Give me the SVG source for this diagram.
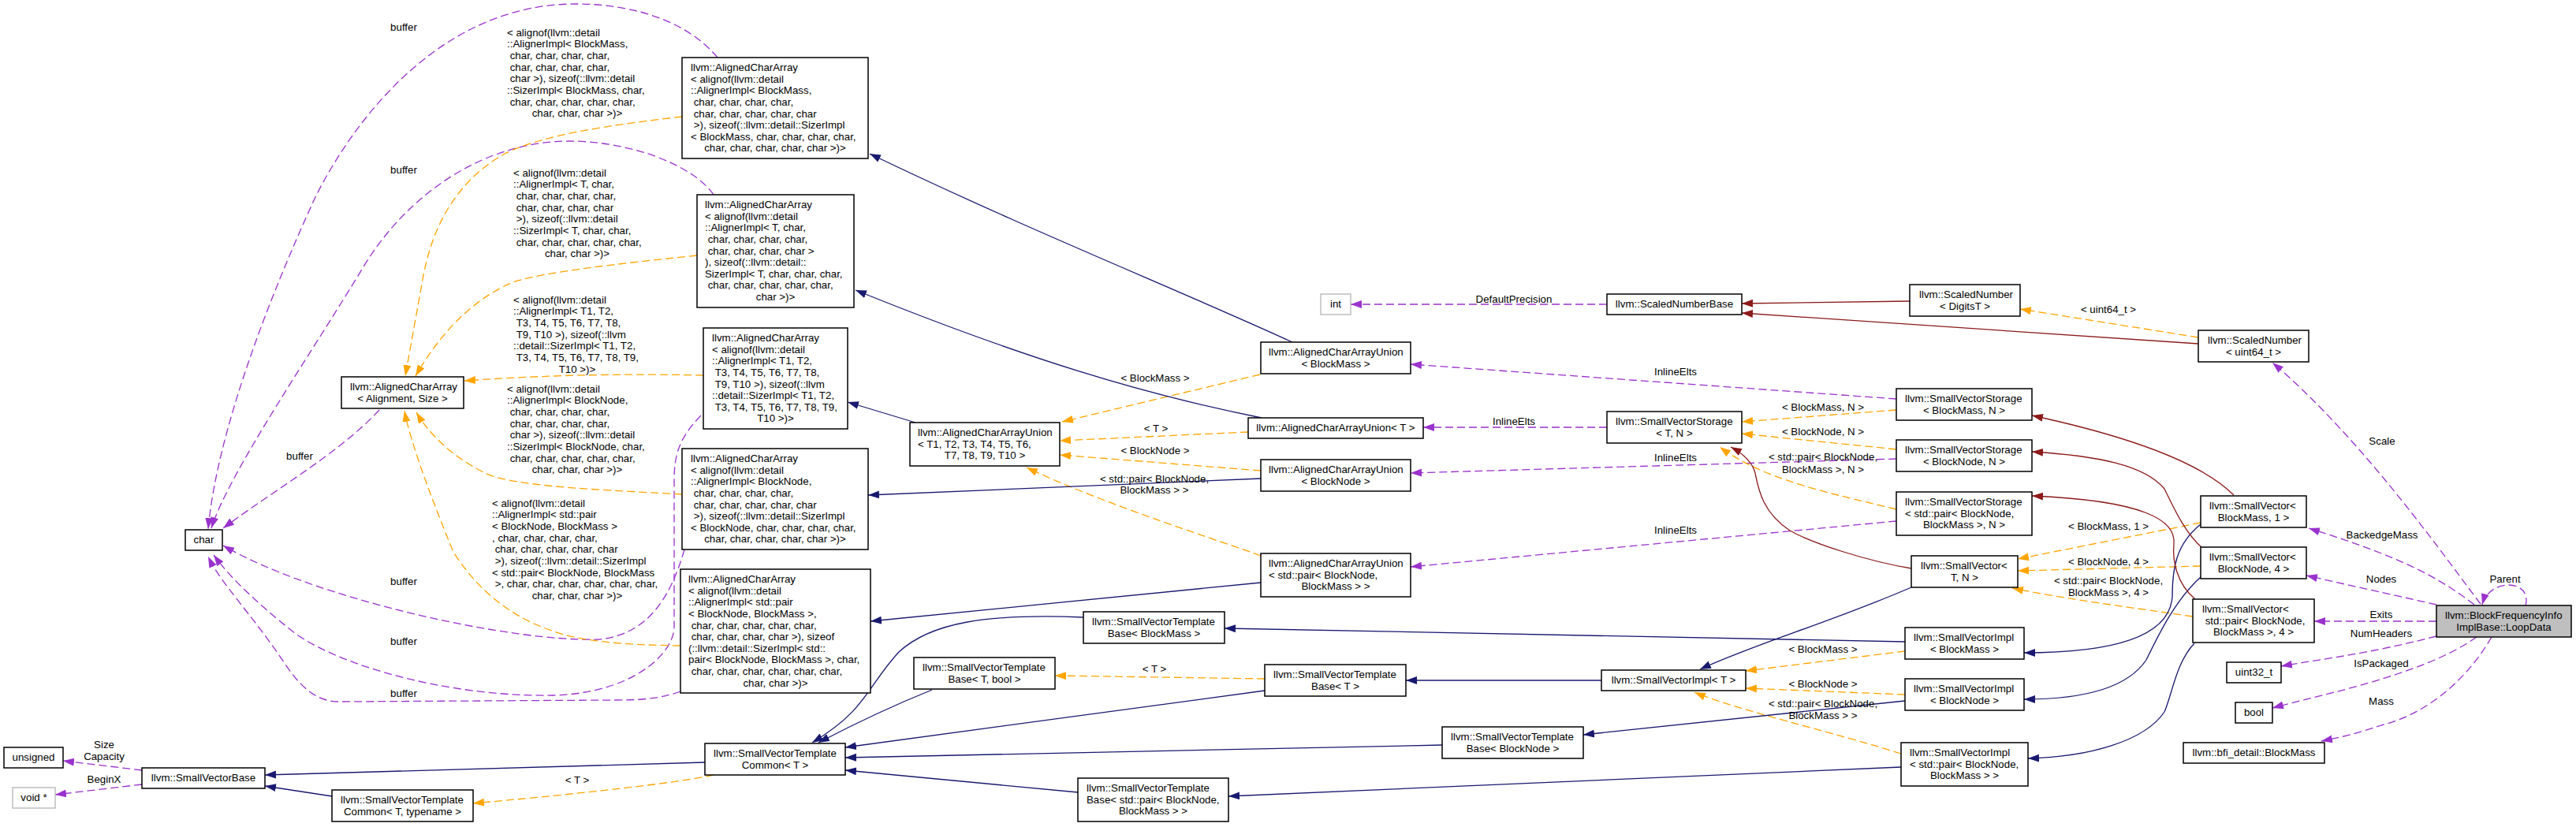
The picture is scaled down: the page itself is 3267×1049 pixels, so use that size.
<svg xmlns="http://www.w3.org/2000/svg" width="3267" height="1049" viewBox="0 0 3267 1049">
<style>
text{font-family:"Liberation Sans",Arial,Helvetica,sans-serif;font-size:13.3px;fill:#000}
.m{text-anchor:middle}
.box{fill:#fff;stroke:#000;stroke-width:1.5}
.gb{fill:#fff;stroke:#bfbfbf;stroke-width:1.5}
.root{fill:#bfbfbf;stroke:#000;stroke-width:1.5}
.nv{fill:none;stroke:#191970;stroke-width:1.3;marker-end:url(#an)}
.rd{fill:none;stroke:#8b1a1a;stroke-width:1.3;marker-end:url(#ar)}
.or{fill:none;stroke:#ffa500;stroke-width:1.3;stroke-dasharray:10,5;marker-end:url(#ao)}
.pu{fill:none;stroke:#9a32cd;stroke-width:1.3;stroke-dasharray:10,5;marker-end:url(#ap)}
</style>
<defs>
<marker id="an" markerUnits="userSpaceOnUse" markerWidth="15" markerHeight="11" refX="14" refY="5" orient="auto"><path d="M0,0 L14,5 L0,10 z" fill="#191970"/></marker>
<marker id="ar" markerUnits="userSpaceOnUse" markerWidth="15" markerHeight="11" refX="14" refY="5" orient="auto"><path d="M0,0 L14,5 L0,10 z" fill="#8b1a1a"/></marker>
<marker id="ao" markerUnits="userSpaceOnUse" markerWidth="15" markerHeight="11" refX="14" refY="5" orient="auto"><path d="M0,0 L14,5 L0,10 z" fill="#ffa500"/></marker>
<marker id="ap" markerUnits="userSpaceOnUse" markerWidth="15" markerHeight="11" refX="14" refY="5" orient="auto"><path d="M0,0 L14,5 L0,10 z" fill="#9a32cd"/></marker>
</defs>
<rect width="3267" height="1049" fill="#fff"/>

<g id="connectors">
<path class="pu" d="M910,73 C870,25 800,5 730,5 C560,5 450,150 400,250 C340,380 275,550 264,671"/>
<path class="pu" d="M905,247 C880,210 800,179 722,179 C620,179 520,240 460,340 C400,440 290,600 268,670"/>
<path class="pu" d="M481,520 C430,575 350,620 283,670"/>
<path class="pu" d="M868,697 C850,760 820,805 760,811 C650,815 400,760 283,692"/>
<path class="pu" d="M889,527 C862,555 855,575 855,610 L855,795 C855,830 800,880 700,882 C560,884 420,840 370,800 C320,760 290,730 271,704"/>
<path class="pu" d="M863,877 C840,885 820,888 780,888 L430,890 C400,890 380,870 360,840 C320,780 280,740 264,706"/>
<path class="pu" d="M2038,386 L1713,386"/>
<path class="pu" d="M2405,506 L1789,462"/>
<path class="pu" d="M2038,542 L1805,542"/>
<path class="pu" d="M2405,582 L1789,600"/>
<path class="pu" d="M2405,661 L1789,719"/>
<path class="pu" d="M3146,766 C3110,720 3000,560 2882,460"/>
<path class="pu" d="M3138,767 C3090,730 3040,705 2928,670"/>
<path class="pu" d="M3090,767 L2925,730"/>
<path class="pu" d="M3090,788 L2935,788"/>
<path class="pu" d="M3090,807 C3000,830 2950,835 2893,845"/>
<path class="pu" d="M3141,808 C3110,830 3070,845 3040,855 C2980,875 2930,885 2882,898"/>
<path class="pu" d="M3160,808 C3130,860 3080,905 3020,920 C2990,930 2970,935 2944,940"/>
<path class="pu" d="M3203,768 C3212,735 3158,732 3148,767"/>
<path class="pu" d="M180,977 L80,965"/>
<path class="pu" d="M180,995 L70,1008"/>
<path class="or" d="M865,148 C780,158 690,170 640,195 C570,235 545,300 535,360 L514,477"/>
<path class="or" d="M884,324 C780,335 690,345 650,358 C600,380 560,420 527,477"/>
<path class="or" d="M892,476 C800,474 700,475 589,483"/>
<path class="or" d="M865,627 C780,622 650,618 615,600 C585,585 550,560 528,523"/>
<path class="or" d="M863,819 C800,818 740,815 700,800 C640,780 600,740 575,700 C550,640 520,560 513,521"/>
<path class="or" d="M1598,475 L1347,535"/>
<path class="or" d="M1583,548 L1344,559"/>
<path class="or" d="M1599,597 L1344,577"/>
<path class="or" d="M1599,705 C1560,690 1400,640 1302,593"/>
<path class="or" d="M1604,861 L1338,857"/>
<path class="or" d="M905,983 C850,995 700,1010 600,1019"/>
<path class="or" d="M2788,428 L2562,392"/>
<path class="or" d="M2405,520 L2209,535"/>
<path class="or" d="M2405,570 L2209,550"/>
<path class="or" d="M2405,646 C2320,625 2240,610 2181,567"/>
<path class="or" d="M2791,663 L2559,709"/>
<path class="or" d="M2791,718 L2559,724"/>
<path class="or" d="M2781,782 C2700,770 2620,760 2552,746"/>
<path class="or" d="M2416,826 L2214,851"/>
<path class="or" d="M2416,881 L2214,873"/>
<path class="or" d="M2411,956 C2330,930 2200,900 2149,878"/>
<path class="nv" d="M1639,434 C1500,370 1300,290 1103,195"/>
<path class="nv" d="M1600,530 C1450,500 1300,455 1085,368"/>
<path class="nv" d="M1161,536 L1075,510"/>
<path class="nv" d="M1599,607 L1101,628"/>
<path class="nv" d="M1599,739 L1104,788"/>
<path class="nv" d="M1374,783 C1250,778 1180,790 1140,827 C1100,870 1100,900 1030,942"/>
<path class="nv" d="M1182,875 C1120,900 1080,920 1038,942"/>
<path class="nv" d="M1604,876 L1072,948"/>
<path class="nv" d="M1829,945 L1072,961"/>
<path class="nv" d="M1367,1005 L1072,977"/>
<path class="nv" d="M894,967 L336,983"/>
<path class="nv" d="M421,1010 L336,997"/>
<path class="nv" d="M2416,814 L1553,797"/>
<path class="nv" d="M2416,889 L2008,932"/>
<path class="nv" d="M2411,973 L1558,1010"/>
<path class="nv" d="M2031,863 L1783,863"/>
<path class="nv" d="M2424,745 C2320,790 2230,815 2156,849"/>
<path class="nv" d="M2791,665 C2760,690 2755,720 2755,757 C2752,800 2700,828 2567,828"/>
<path class="nv" d="M2791,732 C2760,760 2740,800 2722,837 C2700,870 2650,887 2567,887"/>
<path class="nv" d="M2783,816 C2760,840 2755,880 2745,903 C2720,940 2650,960 2572,962"/>
<path class="rd" d="M2788,436 L2209,397"/>
<path class="rd" d="M2422,382 L2209,385"/>
<path class="rd" d="M2424,721 C2370,712 2300,690 2270,673 C2235,650 2230,620 2226,600 C2222,585 2210,575 2195,567"/>
<path class="rd" d="M2833,628 C2800,595 2730,560 2577,527"/>
<path class="rd" d="M2793,695 C2770,675 2755,640 2745,620 C2720,590 2660,578 2577,573"/>
<path class="rd" d="M2784,760 C2760,740 2755,710 2757,690 C2760,660 2720,635 2577,629"/>
</g>

<g id="edge-labels">
<text x="643" y="45.6">&lt; alignof(llvm::detail<tspan x="643" dy="14.65">::AlignerImpl&lt; BlockMass,</tspan><tspan x="646.7" dy="14.65">char, char, char, char,</tspan><tspan x="646.7" dy="14.65">char, char, char, char,</tspan><tspan x="646.7" dy="14.65">char &gt;), sizeof(::llvm::detail</tspan><tspan x="643" dy="14.65">::SizerImpl&lt; BlockMass, char,</tspan><tspan x="646.7" dy="14.65">char, char, char, char, char,</tspan><tspan x="732" dy="14.65" text-anchor="middle">char, char, char &gt;)&gt;</tspan></text>
<text x="651" y="223.6">&lt; alignof(llvm::detail<tspan x="651" dy="14.65">::AlignerImpl&lt; T, char,</tspan><tspan x="654.7" dy="14.65">char, char, char, char,</tspan><tspan x="654.7" dy="14.65">char, char, char, char</tspan><tspan x="654.7" dy="14.65">&gt;), sizeof(::llvm::detail</tspan><tspan x="651" dy="14.65">::SizerImpl&lt; T, char, char,</tspan><tspan x="654.7" dy="14.65">char, char, char, char, char,</tspan><tspan x="732" dy="14.65" text-anchor="middle">char, char &gt;)&gt;</tspan></text>
<text x="651" y="384.6">&lt; alignof(llvm::detail<tspan x="651" dy="14.65">::AlignerImpl&lt; T1, T2,</tspan><tspan x="654.7" dy="14.65">T3, T4, T5, T6, T7, T8,</tspan><tspan x="654.7" dy="14.65">T9, T10 &gt;), sizeof(::llvm</tspan><tspan x="651" dy="14.65">::detail::SizerImpl&lt; T1, T2,</tspan><tspan x="654.7" dy="14.65">T3, T4, T5, T6, T7, T8, T9,</tspan><tspan x="732" dy="14.65" text-anchor="middle">T10 &gt;)&gt;</tspan></text>
<text x="643" y="497.6">&lt; alignof(llvm::detail<tspan x="643" dy="14.65">::AlignerImpl&lt; BlockNode,</tspan><tspan x="646.7" dy="14.65">char, char, char, char,</tspan><tspan x="646.7" dy="14.65">char, char, char, char,</tspan><tspan x="646.7" dy="14.65">char &gt;), sizeof(::llvm::detail</tspan><tspan x="643" dy="14.65">::SizerImpl&lt; BlockNode, char,</tspan><tspan x="646.7" dy="14.65">char, char, char, char, char,</tspan><tspan x="732" dy="14.65" text-anchor="middle">char, char, char &gt;)&gt;</tspan></text>
<text x="624" y="642.6">&lt; alignof(llvm::detail<tspan x="624" dy="14.65">::AlignerImpl&lt; std::pair</tspan><tspan x="624" dy="14.65">&lt; BlockNode, BlockMass &gt;</tspan><tspan x="624" dy="14.65">, char, char, char, char,</tspan><tspan x="627.7" dy="14.65">char, char, char, char, char</tspan><tspan x="627.7" dy="14.65">&gt;), sizeof(::llvm::detail::SizerImpl</tspan><tspan x="624" dy="14.65">&lt; std::pair&lt; BlockNode, BlockMass</tspan><tspan x="627.7" dy="14.65">&gt;, char, char, char, char, char, char,</tspan><tspan x="732" dy="14.65" text-anchor="middle">char, char, char &gt;)&gt;</tspan></text>
<text class="m" x="512" y="38.6">buffer</text>
<text class="m" x="512" y="219.6">buffer</text>
<text class="m" x="380" y="582.6">buffer</text>
<text class="m" x="512" y="741.6">buffer</text>
<text class="m" x="512" y="817.6">buffer</text>
<text class="m" x="512" y="883.6">buffer</text>
<text class="m" x="1920" y="383.6">DefaultPrecision</text>
<text class="m" x="2125" y="475.6">InlineElts</text>
<text class="m" x="1920" y="538.6">InlineElts</text>
<text class="m" x="2125" y="584.6">InlineElts</text>
<text class="m" x="2125" y="676.6">InlineElts</text>
<text class="m" x="3021" y="563.6">Scale</text>
<text class="m" x="3021" y="682.6">BackedgeMass</text>
<text class="m" x="3020" y="738.6">Nodes</text>
<text class="m" x="3020" y="783.6">Exits</text>
<text class="m" x="3020" y="807.6">NumHeaders</text>
<text class="m" x="3020" y="845.6">IsPackaged</text>
<text class="m" x="3020" y="893.6">Mass</text>
<text class="m" x="3177" y="738.6">Parent</text>
<text class="m" x="132" y="948.6">Size</text>
<text class="m" x="132" y="963.6">Capacity</text>
<text class="m" x="132" y="992.6">BeginX</text>
<text class="m" x="1465" y="483.6">&lt; BlockMass &gt;</text>
<text class="m" x="1466" y="547.6">&lt; T &gt;</text>
<text class="m" x="1465" y="575.6">&lt; BlockNode &gt;</text>
<text class="m" x="1464" y="611.6">&lt; std::pair&lt; BlockNode,</text>
<text class="m" x="1464" y="625.6">BlockMass &gt; &gt;</text>
<text class="m" x="1464" y="852.6">&lt; T &gt;</text>
<text class="m" x="732" y="993.6">&lt; T &gt;</text>
<text class="m" x="2674" y="396.6">&lt; uint64_t &gt;</text>
<text class="m" x="2312" y="520.6">&lt; BlockMass, N &gt;</text>
<text class="m" x="2312" y="551.6">&lt; BlockNode, N &gt;</text>
<text class="m" x="2312" y="583.6">&lt; std::pair&lt; BlockNode,</text>
<text class="m" x="2312" y="599.6">BlockMass &gt;, N &gt;</text>
<text class="m" x="2674" y="671.6">&lt; BlockMass, 1 &gt;</text>
<text class="m" x="2674" y="716.6">&lt; BlockNode, 4 &gt;</text>
<text class="m" x="2674" y="740.6">&lt; std::pair&lt; BlockNode,</text>
<text class="m" x="2674" y="755.6">BlockMass &gt;, 4 &gt;</text>
<text class="m" x="2312" y="827.6">&lt; BlockMass &gt;</text>
<text class="m" x="2312" y="871.6">&lt; BlockNode &gt;</text>
<text class="m" x="2312" y="896.6">&lt; std::pair&lt; BlockNode,</text>
<text class="m" x="2312" y="911.6">BlockMass &gt; &gt;</text>
</g>

<g id="LoopData"><rect class="root" x="3090" y="768" width="171" height="40"/><text x="3101" y="785">llvm::BlockFrequencyInfo</text><text class="m" x="3175.5" y="800">ImplBase::LoopData</text></g>
<g id="SmallVector_BlockMass_1"><rect class="box" x="2791" y="629" width="134" height="40"/><text x="2802" y="646">llvm::SmallVector&lt;</text><text class="m" x="2858" y="661">BlockMass, 1 &gt;</text></g>
<g id="SmallVector_BlockNode_4"><rect class="box" x="2791" y="694" width="134" height="40"/><text x="2802" y="711">llvm::SmallVector&lt;</text><text class="m" x="2858" y="726">BlockNode, 4 &gt;</text></g>
<g id="SmallVector_pair_4"><rect class="box" x="2781" y="760" width="154" height="55"/><text x="2793" y="777">llvm::SmallVector&lt;</text><text x="2796.7" y="792">std::pair&lt; BlockNode,</text><text class="m" x="2858" y="806">BlockMass &gt;, 4 &gt;</text></g>
<g id="uint32_t"><rect class="box" x="2824" y="840" width="69" height="26"/><text class="m" x="2858.5" y="857">uint32_t</text></g>
<g id="bool"><rect class="box" x="2835" y="891" width="47" height="26"/><text class="m" x="2858.5" y="908">bool</text></g>
<g id="BlockMass"><rect class="box" x="2769" y="942" width="179" height="26"/><text class="m" x="2858.5" y="959">llvm::bfi_detail::BlockMass</text></g>
<g id="ScaledNumber_uint64"><rect class="box" x="2788" y="419" width="140" height="40"/><text x="2800" y="436">llvm::ScaledNumber</text><text class="m" x="2858" y="451">&lt; uint64_t &gt;</text></g>
<g id="ScaledNumber_DigitsT"><rect class="box" x="2422" y="361" width="140" height="40"/><text x="2434" y="378">llvm::ScaledNumber</text><text class="m" x="2492" y="393">&lt; DigitsT &gt;</text></g>
<g id="ScaledNumberBase"><rect class="box" x="2038" y="373" width="171" height="26"/><text class="m" x="2123.5" y="390">llvm::ScaledNumberBase</text></g>
<g id="int"><rect class="gb" x="1675" y="373" width="38" height="26"/><text class="m" x="1694" y="390">int</text></g>
<g id="SVStorage_BlockMass_N"><rect class="box" x="2405" y="493" width="172" height="40"/><text x="2416" y="510">llvm::SmallVectorStorage</text><text class="m" x="2491" y="525">&lt; BlockMass, N &gt;</text></g>
<g id="SVStorage_BlockNode_N"><rect class="box" x="2405" y="558" width="172" height="40"/><text x="2416" y="575">llvm::SmallVectorStorage</text><text class="m" x="2491" y="590">&lt; BlockNode, N &gt;</text></g>
<g id="SVStorage_pair_N"><rect class="box" x="2405" y="624" width="172" height="55"/><text x="2416" y="641">llvm::SmallVectorStorage</text><text x="2416" y="656">&lt; std::pair&lt; BlockNode,</text><text class="m" x="2491" y="670">BlockMass &gt;, N &gt;</text></g>
<g id="SVStorage_T_N"><rect class="box" x="2038" y="522" width="171" height="40"/><text x="2049" y="539">llvm::SmallVectorStorage</text><text class="m" x="2123.5" y="554">&lt; T, N &gt;</text></g>
<g id="SmallVector_T_N"><rect class="box" x="2424" y="705" width="135" height="40"/><text x="2436" y="722">llvm::SmallVector&lt;</text><text class="m" x="2491.5" y="737">T, N &gt;</text></g>
<g id="SVImpl_BlockMass"><rect class="box" x="2416" y="796" width="151" height="40"/><text x="2427" y="813">llvm::SmallVectorImpl</text><text class="m" x="2491.5" y="828">&lt; BlockMass &gt;</text></g>
<g id="SVImpl_BlockNode"><rect class="box" x="2416" y="861" width="151" height="40"/><text x="2427" y="878">llvm::SmallVectorImpl</text><text class="m" x="2491.5" y="893">&lt; BlockNode &gt;</text></g>
<g id="SVImpl_pair"><rect class="box" x="2411" y="942" width="161" height="55"/><text x="2422" y="959">llvm::SmallVectorImpl</text><text x="2422" y="974">&lt; std::pair&lt; BlockNode,</text><text class="m" x="2491.5" y="988">BlockMass &gt; &gt;</text></g>
<g id="SVImpl_T"><rect class="box" x="2031" y="850" width="183" height="26"/><text class="m" x="2122.5" y="867">llvm::SmallVectorImpl&lt; T &gt;</text></g>
<g id="SVTBase_T"><rect class="box" x="1604" y="843" width="179" height="40"/><text x="1615" y="860">llvm::SmallVectorTemplate</text><text class="m" x="1693.5" y="875">Base&lt; T &gt;</text></g>
<g id="SVTBase_BlockNode"><rect class="box" x="1829" y="922" width="179" height="40"/><text x="1840" y="939">llvm::SmallVectorTemplate</text><text class="m" x="1918.5" y="954">Base&lt; BlockNode &gt;</text></g>
<g id="SVTBase_BlockMass"><rect class="box" x="1374" y="776" width="179" height="40"/><text x="1385" y="793">llvm::SmallVectorTemplate</text><text class="m" x="1463.5" y="808">Base&lt; BlockMass &gt;</text></g>
<g id="SVTBase_T_bool"><rect class="box" x="1159" y="834" width="179" height="40"/><text x="1170" y="851">llvm::SmallVectorTemplate</text><text class="m" x="1248.5" y="866">Base&lt; T, bool &gt;</text></g>
<g id="SVTBase_pair"><rect class="box" x="1367" y="987" width="191" height="55"/><text x="1378" y="1004">llvm::SmallVectorTemplate</text><text x="1378" y="1019">Base&lt; std::pair&lt; BlockNode,</text><text class="m" x="1462.5" y="1033">BlockMass &gt; &gt;</text></g>
<g id="SVTCommon_T"><rect class="box" x="894" y="943" width="178" height="40"/><text x="905" y="960">llvm::SmallVectorTemplate</text><text class="m" x="983" y="975">Common&lt; T &gt;</text></g>
<g id="SVTCommon_T_typename"><rect class="box" x="421" y="1002" width="179" height="40"/><text x="432" y="1019">llvm::SmallVectorTemplate</text><text class="m" x="510.5" y="1034">Common&lt; T, typename &gt;</text></g>
<g id="SmallVectorBase"><rect class="box" x="180" y="974" width="156" height="26"/><text class="m" x="258" y="991">llvm::SmallVectorBase</text></g>
<g id="unsigned"><rect class="box" x="5" y="948" width="75" height="26"/><text class="m" x="42.5" y="965">unsigned</text></g>
<g id="void_ptr"><rect class="gb" x="16" y="999" width="54" height="26"/><text class="m" x="43" y="1016">void *</text></g>
<g id="char"><rect class="box" x="235" y="672" width="47" height="26"/><text class="m" x="258.5" y="689">char</text></g>
<g id="AlignedCharArray_Alignment_Size"><rect class="box" x="433" y="478" width="155" height="40"/><text x="444" y="495">llvm::AlignedCharArray</text><text class="m" x="510.5" y="510">&lt; Alignment, Size &gt;</text></g>
<g id="ACA_BlockMass"><rect class="box" x="865" y="73" width="236" height="128"/><text x="876" y="90.1">llvm::AlignedCharArray<tspan x="876" dy="14.6">&lt; alignof(llvm::detail</tspan><tspan x="876" dy="14.6">::AlignerImpl&lt; BlockMass,</tspan><tspan x="879.7" dy="14.6">char, char, char, char,</tspan><tspan x="879.7" dy="14.6">char, char, char, char, char</tspan><tspan x="879.7" dy="14.6">&gt;), sizeof(::llvm::detail::SizerImpl</tspan><tspan x="876" dy="14.6">&lt; BlockMass, char, char, char, char,</tspan><tspan x="983" dy="14.6" text-anchor="middle">char, char, char, char, char &gt;)&gt;</tspan></text></g>
<g id="ACA_T"><rect class="box" x="884" y="247" width="199" height="143"/><text x="894" y="264.1">llvm::AlignedCharArray<tspan x="894" dy="14.6">&lt; alignof(llvm::detail</tspan><tspan x="894" dy="14.6">::AlignerImpl&lt; T, char,</tspan><tspan x="897.7" dy="14.6">char, char, char, char,</tspan><tspan x="897.7" dy="14.6">char, char, char, char &gt;</tspan><tspan x="894" dy="14.6">), sizeof(::llvm::detail::</tspan><tspan x="894" dy="14.6">SizerImpl&lt; T, char, char, char,</tspan><tspan x="897.7" dy="14.6">char, char, char, char, char,</tspan><tspan x="983.5" dy="14.6" text-anchor="middle">char &gt;)&gt;</tspan></text></g>
<g id="ACA_T1_T10"><rect class="box" x="892" y="416" width="183" height="128"/><text x="903" y="433.1">llvm::AlignedCharArray<tspan x="903" dy="14.6">&lt; alignof(llvm::detail</tspan><tspan x="903" dy="14.6">::AlignerImpl&lt; T1, T2,</tspan><tspan x="906.7" dy="14.6">T3, T4, T5, T6, T7, T8,</tspan><tspan x="906.7" dy="14.6">T9, T10 &gt;), sizeof(::llvm</tspan><tspan x="903" dy="14.6">::detail::SizerImpl&lt; T1, T2,</tspan><tspan x="906.7" dy="14.6">T3, T4, T5, T6, T7, T8, T9,</tspan><tspan x="983.5" dy="14.6" text-anchor="middle">T10 &gt;)&gt;</tspan></text></g>
<g id="ACA_BlockNode"><rect class="box" x="865" y="569" width="236" height="128"/><text x="876" y="586.1">llvm::AlignedCharArray<tspan x="876" dy="14.6">&lt; alignof(llvm::detail</tspan><tspan x="876" dy="14.6">::AlignerImpl&lt; BlockNode,</tspan><tspan x="879.7" dy="14.6">char, char, char, char,</tspan><tspan x="879.7" dy="14.6">char, char, char, char, char</tspan><tspan x="879.7" dy="14.6">&gt;), sizeof(::llvm::detail::SizerImpl</tspan><tspan x="876" dy="14.6">&lt; BlockNode, char, char, char, char,</tspan><tspan x="983" dy="14.6" text-anchor="middle">char, char, char, char, char &gt;)&gt;</tspan></text></g>
<g id="ACA_pair"><rect class="box" x="863" y="722" width="241" height="157"/><text x="873" y="739.1">llvm::AlignedCharArray<tspan x="873" dy="14.6">&lt; alignof(llvm::detail</tspan><tspan x="873" dy="14.6">::AlignerImpl&lt; std::pair</tspan><tspan x="873" dy="14.6">&lt; BlockNode, BlockMass &gt;,</tspan><tspan x="876.7" dy="14.6">char, char, char, char, char,</tspan><tspan x="876.7" dy="14.6">char, char, char, char &gt;), sizeof</tspan><tspan x="873" dy="14.6">(::llvm::detail::SizerImpl&lt; std::</tspan><tspan x="873" dy="14.6">pair&lt; BlockNode, BlockMass &gt;, char,</tspan><tspan x="876.7" dy="14.6">char, char, char, char, char, char,</tspan><tspan x="983.5" dy="14.6" text-anchor="middle">char, char &gt;)&gt;</tspan></text></g>
<g id="ACAUnion_T1_T10"><rect class="box" x="1154" y="536" width="190" height="55"/><text x="1164" y="553.1">llvm::AlignedCharArrayUnion</text><text x="1164" y="567.7">&lt; T1, T2, T3, T4, T5, T6,</text><text class="m" x="1249" y="582.3">T7, T8, T9, T10 &gt;</text></g>
<g id="ACAUnion_BlockMass"><rect class="box" x="1599" y="434" width="190" height="40"/><text x="1609" y="451">llvm::AlignedCharArrayUnion</text><text class="m" x="1694" y="466">&lt; BlockMass &gt;</text></g>
<g id="ACAUnion_T"><rect class="box" x="1583" y="530" width="222" height="26"/><text class="m" x="1694" y="547">llvm::AlignedCharArrayUnion&lt; T &gt;</text></g>
<g id="ACAUnion_BlockNode"><rect class="box" x="1599" y="583" width="190" height="40"/><text x="1609" y="600">llvm::AlignedCharArrayUnion</text><text class="m" x="1694" y="615">&lt; BlockNode &gt;</text></g>
<g id="ACAUnion_pair"><rect class="box" x="1599" y="702" width="190" height="55"/><text x="1609" y="719">llvm::AlignedCharArrayUnion</text><text x="1609" y="734">&lt; std::pair&lt; BlockNode,</text><text class="m" x="1694" y="748">BlockMass &gt; &gt;</text></g>
</svg>
